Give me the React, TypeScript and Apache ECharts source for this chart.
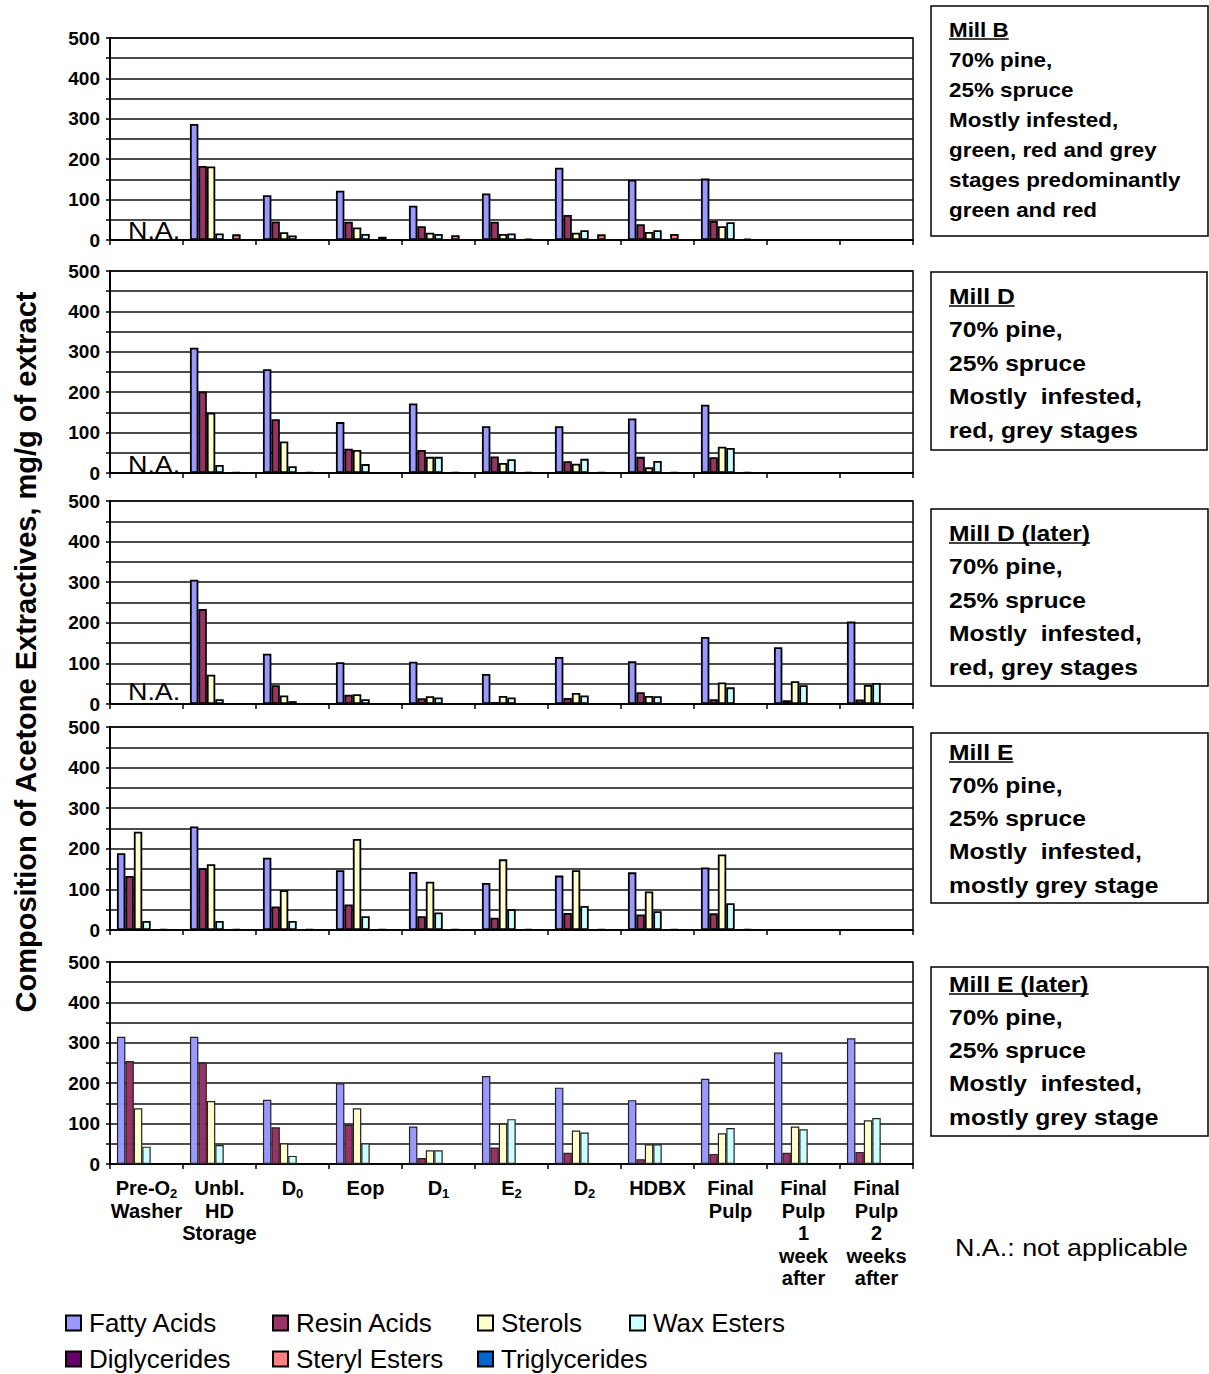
import React, { useEffect, useRef } from 'react';
import * as echarts from 'echarts';

// ---------- data ----------
const categories = [
  'Pre-O2\nWasher',
  'Unbl.\nHD\nStorage',
  'D0',
  'Eop',
  'D1',
  'E2',
  'D2',
  'HDBX',
  'Final\nPulp',
  'Final\nPulp\n1\nweek\nafter',
  'Final\nPulp\n2\nweeks\nafter',
];

const seriesNames = ['Fatty Acids', 'Resin Acids', 'Sterols', 'Wax Esters', 'Diglycerides', 'Steryl Esters', 'Triglycerides'];
const seriesColors = ['#9999FF', '#993366', '#FFFFCC', '#CCFFFF', '#660066', '#FF8080', '#0066CC'];

const N = null;
const noData = [N, N, N, N, N, N, N, N, N, N, N];

// Mill B
const millB_fatty = [N, 287, 111, 122, 85, 115, 179, 149, 152, N, N];
const millB_resin = [N, 183, 46, 45, 34, 45, 62, 39, 47, N, N];
const millB_sterols = [N, 182, 19, 31, 18, 15, 18, 20, 34, N, N];
const millB_wax = [N, 16, 11, 15, 15, 16, 24, 24, 44, N, N];
const millB_steryl = [N, 14, N, 8, 12, 3, 14, 15, 3, N, N];

// Mill D
const millD_fatty = [N, 310, 257, 126, 172, 116, 116, 135, 169, N, N];
const millD_resin = [N, 202, 133, 60, 57, 41, 29, 40, 39, N, N];
const millD_sterols = [N, 149, 78, 57, 40, 25, 23, 14, 65, N, N];
const millD_wax = [N, 20, 17, 22, 40, 34, 35, 30, 62, N, N];
const millD_steryl = [N, 2, 2, N, 2, 2, 2, 2, 2, N, N];

// Mill D (later)
const millDL_fatty = [N, 306, 124, 103, 104, 74, 116, 105, 165, 140, 203];
const millDL_resin = [N, 234, 46, 23, 14, 5, 15, 29, 12, 9, 11];
const millDL_sterols = [N, 72, 21, 24, 19, 20, 27, 20, 53, 56, 47];
const millDL_wax = [N, 12, 7, 12, 16, 16, 21, 19, 41, 46, 52];

// Mill E
const millE_fatty = [189, 255, 178, 147, 143, 116, 134, 142, 154, N, N];
const millE_resin = [133, 152, 58, 63, 34, 30, 42, 38, 41, N, N];
const millE_sterols = [242, 162, 98, 224, 119, 174, 147, 95, 186, N, N];
const millE_wax = [22, 22, 22, 34, 43, 51, 59, 46, 66, N, N];
const millE_steryl = [2, 2, 2, 2, 2, 2, 2, 2, 2, N, N];

// Mill E (later)
const millEL_fatty = [315, 315, 159, 200, 93, 218, 189, 158, 211, 276, 311];
const millEL_resin = [255, 251, 91, 97, 15, 41, 28, 12, 25, 28, 30];
const millEL_sterols = [138, 156, 51, 138, 34, 100, 83, 49, 76, 93, 108];
const millEL_wax = [43, 47, 20, 51, 34, 111, 78, 49, 89, 86, 114];

const panelValues = [
  [millB_fatty, millB_resin, millB_sterols, millB_wax, noData, millB_steryl, noData],
  [millD_fatty, millD_resin, millD_sterols, millD_wax, noData, millD_steryl, noData],
  [millDL_fatty, millDL_resin, millDL_sterols, millDL_wax, noData, noData, noData],
  [millE_fatty, millE_resin, millE_sterols, millE_wax, noData, millE_steryl, noData],
  [millEL_fatty, millEL_resin, millEL_sterols, millEL_wax, noData, noData, noData],
];

const panelNA = [true, true, true, false, false];

const boxLines = [
  ['Mill B', '70% pine,', '25% spruce', 'Mostly infested,', 'green, red and grey', 'stages predominantly', 'green and red'],
  ['Mill D', '70% pine,', '25% spruce', 'Mostly  infested,', 'red, grey stages'],
  ['Mill D (later)', '70% pine,', '25% spruce', 'Mostly  infested,', 'red, grey stages'],
  ['Mill E', '70% pine,', '25% spruce', 'Mostly  infested,', 'mostly grey stage'],
  ['Mill E (later)', '70% pine,', '25% spruce', 'Mostly  infested,', 'mostly grey stage'],
];

const yAxisTitle = 'Composition of Acetone Extractives, mg/g of extract';
const naLabel = 'N.A.';
const naNote = 'N.A.: not applicable';
const yMax = 500;
const yStep = 50;
const yLabelStep = 100;

// ---------- layout ----------
const FONT = '"Liberation Sans", Arial, Helvetica, sans-serif';
const gridLeft = 110;
const gridWidth = 803;
const gridTops = [38, 271, 501, 727, 962];
const gridHeights = [202, 202, 203, 203, 202];
const naY = [231, 465, 692];
const boxRects = [
  [931, 6, 277, 230],
  [931, 272, 276, 178],
  [931, 509, 277, 177],
  [931, 733, 277, 170],
  [931, 967, 277, 169],
];
const boxFirstY = [30, 296, 533, 752, 984];
const boxStep = [30, 33.5, 33.5, 33.25, 33.25];
const boxFont = [20, 22, 22, 22, 22];
const SX = 1.12;

function measure(text: string, font: string): number {
  const c = document.createElement('canvas').getContext('2d');
  if (!c) return text.length * 10;
  c.font = font;
  return c.measureText(text).width;
}

function buildOption() {
  const grids: any[] = [];
  const xAxes: any[] = [];
  const yAxes: any[] = [];
  const series: any[] = [];
  for (let p = 0; p < 5; p++) {
    const last = p === 4;
    grids.push({
      left: gridLeft,
      top: gridTops[p],
      width: gridWidth,
      height: gridHeights[p],
      show: true,
      borderColor: '#000',
      borderWidth: 1.5,
      containLabel: false,
    });
    xAxes.push({
      type: 'category',
      gridIndex: p,
      data: categories,
      axisLine: { show: true, lineStyle: { color: '#000', width: 1.5 } },
      axisTick: { show: true, alignWithLabel: false, length: 5, lineStyle: { color: '#000', width: 1.5 } },
      axisLabel: last
        ? {
            show: true,
            interval: 0,
            margin: 13,
            color: '#000',
            fontFamily: FONT,
            fontWeight: 'bold',
            fontSize: 20,
            lineHeight: 22.5,
            formatter: (v: string) => v.replace(/([A-Za-z-])([0-9])(?=\n|$)/, '$1{s|$2}'),
            rich: {
              s: { fontFamily: FONT, fontWeight: 'bold', fontSize: 13, lineHeight: 12, color: '#000', verticalAlign: 'bottom' },
            },
          }
        : { show: false },
      splitLine: { show: false },
    });
    yAxes.push({
      type: 'value',
      gridIndex: p,
      min: 0,
      max: yMax,
      interval: yStep,
      axisLine: { show: true, lineStyle: { color: '#000', width: 2 } },
      axisTick: { show: true, length: 4, lineStyle: { color: '#000', width: 1.5 } },
      axisLabel: {
        show: true,
        margin: 10,
        color: '#000',
        fontFamily: FONT,
        fontWeight: 'bold',
        fontSize: 19,
        formatter: (v: number) => (v % yLabelStep === 0 ? String(v) : ''),
      },
      splitLine: { show: true, lineStyle: { color: '#111', width: 1.5 } },
    });
    for (let s = 0; s < 7; s++) {
      series.push({
        type: 'bar',
        name: seriesNames[s],
        xAxisIndex: p,
        yAxisIndex: p,
        data: panelValues[p][s],
        barGap: '0%',
        barCategoryGap: '19%',
        itemStyle: { color: seriesColors[s], borderColor: last ? '#222' : '#000', borderWidth: last ? 1.2 : 1.8 },
        emphasis: { disabled: true },
      });
    }
  }

  const legendPos = [
    [65, 1309],
    [272, 1309],
    [477, 1309],
    [629, 1309],
    [65, 1345],
    [272, 1345],
    [477, 1345],
  ];
  const legends = seriesNames.map((name, i) => ({
    data: [name],
    left: legendPos[i][0],
    top: legendPos[i][1],
    padding: 0,
    icon: 'rect',
    itemWidth: 15,
    itemHeight: 15,
    selectedMode: false,
    textStyle: { fontFamily: FONT, fontSize: 26, lineHeight: 28, color: '#000', padding: [0, 0, 0, 3] },
  }));

  const graphics: any[] = [];
  // y-axis title
  graphics.push({
    type: 'text',
    x: 26,
    y: 652,
    rotation: Math.PI / 2,
    style: { text: yAxisTitle, fontFamily: FONT, fontWeight: 'bold', fontSize: 29, fill: '#000', align: 'center', verticalAlign: 'middle' },
  });
  // N.A. labels
  for (let p = 0; p < 5; p++) {
    if (!panelNA[p]) continue;
    graphics.push({
      type: 'text',
      x: 128,
      y: naY[p],
      scaleX: SX,
      style: { text: naLabel, fontFamily: FONT, fontSize: 24, fill: '#000', align: 'left', verticalAlign: 'middle' },
    });
  }
  // boxes
  for (let b = 0; b < 5; b++) {
    const [bx, by, bw, bh] = boxRects[b];
    graphics.push({
      type: 'rect',
      shape: { x: bx, y: by, width: bw, height: bh },
      style: { fill: '#fff', stroke: '#000', lineWidth: 1.5 },
    });
    const fs = boxFont[b];
    boxLines[b].forEach((line, i) => {
      const y = boxFirstY[b] + i * boxStep[b];
      graphics.push({
        type: 'text',
        x: 949,
        y,
        scaleX: SX,
        style: { text: line, fontFamily: FONT, fontWeight: 'bold', fontSize: fs, fill: '#000', align: 'left', verticalAlign: 'middle' },
      });
      if (i === 0) {
        const w = measure(line, `bold ${fs}px ${FONT}`) * SX;
        graphics.push({
          type: 'line',
          shape: { x1: 949, y1: y + fs * 0.45, x2: 949 + w, y2: y + fs * 0.45 },
          style: { stroke: '#000', lineWidth: 1.5 },
        });
      }
    });
  }
  // footnote
  graphics.push({
    type: 'text',
    x: 955,
    y: 1248,
    scaleX: SX,
    style: { text: naNote, fontFamily: FONT, fontSize: 24, fill: '#000', align: 'left', verticalAlign: 'middle' },
  });

  return {
    animation: false,
    backgroundColor: '#fff',
    textStyle: { fontFamily: FONT },
    grid: grids,
    xAxis: xAxes,
    yAxis: yAxes,
    series,
    legend: legends,
    graphic: { elements: graphics },
  };
}

export default function App() {
  const ref = useRef<HTMLDivElement>(null);
  useEffect(() => {
    if (!ref.current) return;
    const chart = echarts.init(ref.current, undefined, { renderer: 'svg' });
    chart.setOption(buildOption() as any);
    return () => chart.dispose();
  }, []);
  return <div ref={ref} style={{ position: 'absolute', left: 0, top: 0, width: 1209, height: 1374 }} />;
}
